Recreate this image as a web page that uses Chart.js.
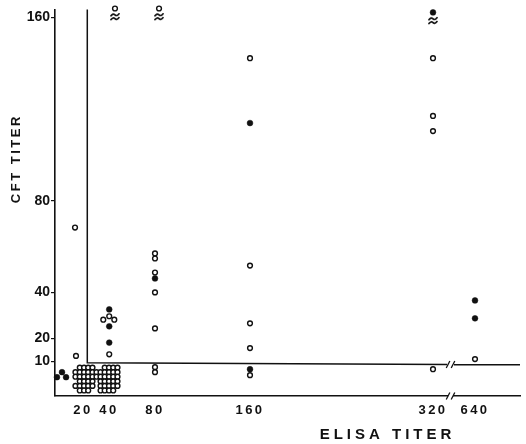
<!DOCTYPE html>
<html><head><meta charset="utf-8">
<style>html,body{margin:0;padding:0;background:#fff;}#wrap{width:526px;height:444px;}</style>
<script src="https://cdn.jsdelivr.net/npm/chart.js@4/dist/chart.umd.min.js"></script>
</head><body><div id="wrap"><canvas id="c" width="526" height="444"></canvas></div>
<script>
// ---- data (ELISA titer = x, CFT titer = y; values below 10 / above 160 sit in off-scale bands) ----
const xTickValues = [20, 40, 80, 160, 320, 640];
const yTickValues = [10, 20, 40, 80, 160];
const xTitle = 'ELISA TITER';
const yTitle = 'CFT TITER';

const openSingles = [
  [15.0, 12.3], [14.3, 68.3],
  [35.6, 28.1], [40.2, 29.6], [44.6, 28.1], [40.2, 13.0],
  [80, 57.0], [80, 54.8], [80, 48.7], [80, 40.0], [80, 24.3], [80, 7.4], [80, 5.2],
  [160, 142.2], [160, 51.7], [160, 26.5], [160, 15.7], [160, 3.9],
  [320, 142.2], [320, 117.0], [320, 110.4], [320, 6.5],
  [640, 10.9],
  [45.2, 163.9], [83.4, 163.9]
];
const openCluster20 = [
  [17.7, 7.2], [20.8, 7.2], [24.0, 7.2], [27.3, 7.2],
  [14.6, 5.2], [17.7, 5.2], [20.8, 5.2], [24.0, 5.2], [27.3, 5.2],
  [14.6, 3.2], [17.7, 3.2], [20.8, 3.2], [24.0, 3.2], [27.3, 3.2],
  [17.7, 1.2], [20.8, 1.2], [24.0, 1.2], [27.3, 1.2],
  [14.6, -0.8], [17.7, -0.8], [20.8, -0.8], [24.0, -0.8], [27.3, -0.8],
  [17.7, -2.8], [20.8, -2.8], [24.0, -2.8]
];
const openCluster40 = [
  [36.7, 7.2], [40.0, 7.2], [43.7, 7.2], [47.4, 7.2],
  [30.4, 5.2], [33.5, 5.2], [36.7, 5.2], [40.0, 5.2], [43.7, 5.2], [47.4, 5.2],
  [30.4, 3.2], [33.5, 3.2], [36.7, 3.2], [40.0, 3.2], [43.7, 3.2], [47.4, 3.2],
  [33.5, 1.2], [36.7, 1.2], [40.0, 1.2], [43.7, 1.2], [47.4, 1.2],
  [33.5, -0.8], [36.7, -0.8], [40.0, -0.8], [43.7, -0.8], [47.4, -0.8],
  [33.5, -2.8], [36.7, -2.8], [40.0, -2.8], [43.7, -2.8]
];
const filledPoints = [
  [1.4, 3.0], [5.0, 5.2], [7.9, 3.0],
  [40.2, 32.6], [40.2, 25.2], [40.2, 18.1],
  [80, 46.1],
  [160, 113.9], [160, 6.5],
  [320, 162.2],
  [640, 36.5], [640, 28.7]
];
const offScaleMarks = [[45.2, 160.4], [83.4, 160.4], [320, 158.7]];
const cutoffElisa = 23.3;
const cutoffCft = [9.3, 8.4];
const xBreak = [427, 480];
const xRange = [0, 700];
const yRange = [-5.2, 163.5];

// ---- scale: titer axis with hand-set spacing (value -> fraction of axis length) ----
const xKnots = [[0, 0], [20, 28 / 465], [40, 54 / 465], [80, 100 / 465], [160, 195 / 465], [320, 378 / 465], [640, 420 / 465], [700, 1]];
function toDec(v) {
  const k = xKnots;
  if (v <= k[0][0]) return k[0][1] + (v - k[0][0]) * (k[1][1] - k[0][1]) / (k[1][0] - k[0][0]);
  for (let i = 1; i < k.length; i++) {
    if (v <= k[i][0] || i === k.length - 1) {
      const [a, fa] = k[i - 1], [b, fb] = k[i];
      return fa + (v - a) * (fb - fa) / (b - a);
    }
  }
}
function fromDec(d) {
  const k = xKnots;
  for (let i = 1; i < k.length; i++) {
    if (d <= k[i][1] || i === k.length - 1) {
      const [a, fa] = k[i - 1], [b, fb] = k[i];
      return a + (d - fa) * (b - a) / (fb - fa);
    }
  }
}
class TiterScale extends Chart.LinearScale {
  getPixelForValue(v) {
    if (v === null || v === undefined || isNaN(v)) return NaN;
    return this.getPixelForDecimal(toDec(v));
  }
  getValueForPixel(p) { return fromDec(this.getDecimalForPixel(p)); }
  drawTitle() {
    const ctx = this.ctx; ctx.save(); ctx.translate(100, 0); ctx.letterSpacing = '4px'; super.drawTitle(); ctx.restore();
  }
  drawLabels(a) {
    const ctx = this.ctx; ctx.save(); ctx.letterSpacing = '2.5px'; super.drawLabels(a); ctx.restore();
  }
}
TiterScale.id = 'titer';
class CftScale extends Chart.LinearScale {
  drawTitle() {
    const ctx = this.ctx; ctx.save(); ctx.translate(0, -44); ctx.letterSpacing = '2.5px'; super.drawTitle(); ctx.restore();
  }
}
CftScale.id = 'cft';
Chart.register(TiterScale, CftScale);

const ink = '#111';
const pts = arr => arr.map(([x, y]) => ({x, y}));

function makeMark() {
  const c = document.createElement('canvas'); c.width = 10; c.height = 9;
  const g = c.getContext('2d'); g.strokeStyle = ink; g.lineWidth = 1.7; g.lineCap = 'round';
  for (const yy of [2.8, 6.6]) {
    g.beginPath(); g.moveTo(1, yy + 1); g.quadraticCurveTo(3, yy - 1.8, 5, yy); g.quadraticCurveTo(7, yy + 1.8, 9, yy - 1); g.stroke();
  }
  return c;
}

const breakPlugin = {
  id: 'breaks',
  afterDraw(chart) {
    const {ctx, scales: {x, y}} = chart;
    const l = x.getPixelForValue(xBreak[0]), r = x.getPixelForValue(xBreak[1]);
    const yb = chart.chartArea.bottom;
    ctx.save();
    ctx.fillStyle = '#fff'; ctx.fillRect(l + 1, yb - 3, r - l - 2, 6);
    ctx.strokeStyle = ink; ctx.lineWidth = 1.3;
    const yc = y.getPixelForValue((cutoffCft[0] + cutoffCft[1]) / 2 - 0.3);
    for (const yy of [yb, yc]) {
      for (const px of [l + 1, r - 1]) {
        ctx.beginPath(); ctx.moveTo(px - 1.8, yy + 3.5); ctx.lineTo(px + 1.8, yy - 3.5); ctx.stroke();
      }
    }
    ctx.restore();
  }
};

const fontTick = {family: 'Liberation Sans', weight: 'bold', size: 13};
new Chart(document.getElementById('c'), {
  type: 'scatter',
  data: {
    datasets: [
      {data: pts(filledPoints), pointStyle: 'circle', pointRadius: 2.9, backgroundColor: ink, borderColor: ink, borderWidth: 0.5, clip: false},
      {data: pts(openSingles.concat(openCluster20, openCluster40)), pointStyle: 'circle', pointRadius: 2.4, backgroundColor: '#fff', borderColor: ink, borderWidth: 1.4, clip: false},
      {data: pts(offScaleMarks), pointStyle: makeMark(), pointRadius: 4, clip: false},
      {data: [
        {x: cutoffElisa, y: yRange[1]}, {x: cutoffElisa, y: cutoffCft[0]},
        {x: xBreak[0], y: cutoffCft[1] + 0.1}, {x: (xBreak[0] + xBreak[1]) / 2, y: null},
        {x: xBreak[1], y: cutoffCft[1]}, {x: xRange[1], y: cutoffCft[1]}
      ], showLine: true, spanGaps: false, pointRadius: 0, borderColor: ink, borderWidth: 1.5, clip: false}
    ]
  },
  options: {
    responsive: false, animation: false, devicePixelRatio: 1,
    layout: {padding: {left: 6, right: 6, top: 8, bottom: 0}},
    plugins: {legend: {display: false}, tooltip: {enabled: false}},
    scales: {
      x: {
        type: 'titer', min: xRange[0], max: xRange[1],
        afterBuildTicks: s => { s.ticks = xTickValues.map(v => ({value: v})); },
        afterFit: s => { s.height = 48; },
        grid: {display: true, drawOnChartArea: false, drawTicks: false},
        border: {display: true, color: ink, width: 1.6},
        ticks: {color: ink, font: fontTick, padding: 7, maxRotation: 0, autoSkip: false, callback: v => String(v)},
        title: {display: true, text: xTitle, color: ink, font: {family: 'Liberation Sans', weight: 'bold', size: 15}, padding: {top: 0, bottom: 0}}
      },
      y: {
        type: 'cft', min: yRange[0], max: yRange[1],
        afterBuildTicks: s => { s.ticks = yTickValues.map(v => ({value: v})); },
        afterFit: s => { s.width = 49; },
        grid: {display: true, drawOnChartArea: false, drawTicks: true, tickLength: 4, color: ink, lineWidth: 1.2},
        border: {display: true, color: ink, width: 1.6},
        ticks: {color: ink, font: {family: 'Liberation Sans', weight: 'bold', size: 14}, padding: 1, autoSkip: false, callback: v => String(v)},
        title: {display: true, text: yTitle, color: ink, font: {family: 'Liberation Sans', weight: 'bold', size: 13}, padding: {top: 3, bottom: 0}}
      }
    }
  },
  plugins: [breakPlugin]
});
</script></body></html>
